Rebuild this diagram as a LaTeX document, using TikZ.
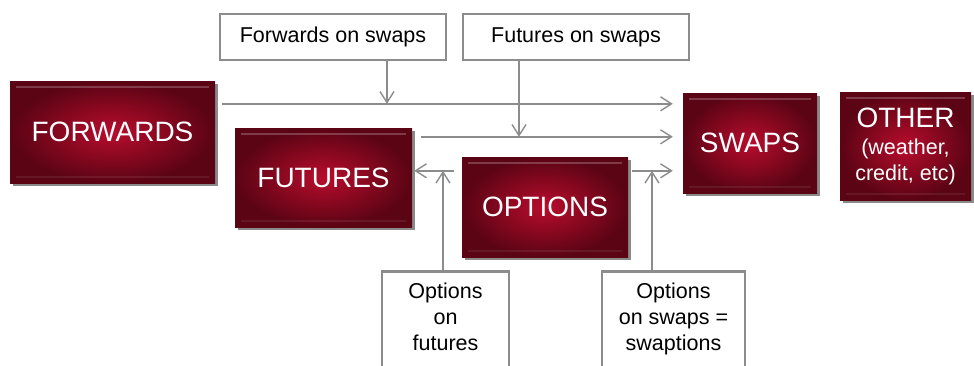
\documentclass[tikz,border=0pt]{standalone}
\usepackage{fontspec}
\setmainfont{Liberation Sans}
\usetikzlibrary{arrows.meta,shadows,calc}
\definecolor{lgray}{HTML}{8C8C8C}
\definecolor{bxgray}{HTML}{8C8C8C}
\definecolor{redin}{HTML}{B80C2C}
\definecolor{redout}{HTML}{5A0414}
\definecolor{shgray}{HTML}{8A8A8A}
\tikzset{
  redbox/.style={inner sep=0pt, shading=radial, inner color=redin, outer color=redout,
    general shadow={fill=shgray, shadow xshift=3pt, shadow yshift=-3pt},
    text=white, font=\fontsize{28}{30}\selectfont, align=center},
  smallbox/.style={draw=bxgray, line width=2.5pt, fill=white, inner sep=0pt},
  smalltext/.style={inner sep=0pt, align=center, font=\fontsize{21.5}{26}\selectfont},
  conn/.style={draw=lgray, line width=1.4pt, -{Straight Barb[length=11pt,width=14pt,line width=1.4pt]}},
  hilite/.style={line width=2.5pt, draw=white, opacity=0.22}
}
\begin{document}
\begin{tikzpicture}[x=1pt,y=-1pt]
\useasboundingbox (0,0) rectangle (974,365);
\clip (0,0) rectangle (974,365);
% red boxes
\node[redbox, minimum width=205pt, minimum height=102pt] (fwd) at (112.5,132) {FORWARDS};
\node[redbox, minimum width=177pt, minimum height=99pt] (fut) at (323.5,177.5) {FUTURES};
\node[redbox, minimum width=166pt, minimum height=100pt] (opt) at (545,207) {OPTIONS};
\node[redbox, minimum width=134pt, minimum height=100pt] (swp) at (750,143) {SWAPS};
\node[redbox, minimum width=131pt, minimum height=108pt, font=\fontsize{21.5}{26}\selectfont] (oth) at (905.5,146)
  {{\fontsize{28}{30}\selectfont OTHER}\\[1pt](weather,\\credit, etc)};
\foreach \n in {fwd,fut,opt,swp,oth}{
  \draw[hilite] ([shift={(6pt,-6pt)}]\n.north west) -- ([shift={(-6pt,-6pt)}]\n.north east);
  \draw[hilite, opacity=0.08] ([shift={(6pt,6pt)}]\n.south west) -- ([shift={(-6pt,6pt)}]\n.south east);
}
% white boxes
\node[smallbox, smalltext, minimum width=226pt, minimum height=46pt] (fos) at (333,37) {Forwards on swaps};
\node[smallbox, smalltext, minimum width=226pt, minimum height=46pt] (fus) at (576,37) {Futures on swaps};
\node[smallbox, minimum width=127pt, minimum height=120pt, anchor=north] (ofb) at (445.5,270) {};
\node[smalltext, anchor=north] (oft) at (445.5,283) {Options\\on\\futures};
\node[smallbox, minimum width=143pt, minimum height=120pt, anchor=north] (osb) at (673.5,270) {};
\node[smalltext, anchor=north] (ost) at (673.5,283) {Options\\on swaps =\\swaptions};
% connector levels
\coordinate (l1) at ([yshift=-23pt]fwd.north east);
\coordinate (l2) at ([yshift=-9pt]fut.north east);
\coordinate (l3) at ([yshift=-14pt]opt.north east);
\coordinate (l4) at ([yshift=-14pt]opt.north west);
% horizontal connectors
\draw[conn] ([xshift=7pt]l1) -- ([xshift=-10pt]l1 -| swp.west);
\draw[conn] ([xshift=9pt]l2) -- ([xshift=-10pt]l2 -| swp.west);
\draw[conn] ([xshift=4pt]l3) -- ([xshift=-10pt]l3 -| swp.west);
\draw[conn] ([xshift=-8pt]l4) -- ([xshift=2pt]l4 -| fut.east);
% vertical connectors
\draw[conn] ([xshift=54pt]fos.south) -- ([xshift=54pt]fos.south |- l1);
\draw[conn] ([xshift=-57pt]fus.south) -- ([xshift=-57pt]fus.south |- l2);
\draw[conn] ([xshift=-2.5pt]ofb.north) -- ([xshift=-2.5pt]ofb.north |- l4);
\draw[conn] ([xshift=-21.5pt]osb.north) -- ([xshift=-21.5pt]osb.north |- l3);
\end{tikzpicture}
\end{document}
